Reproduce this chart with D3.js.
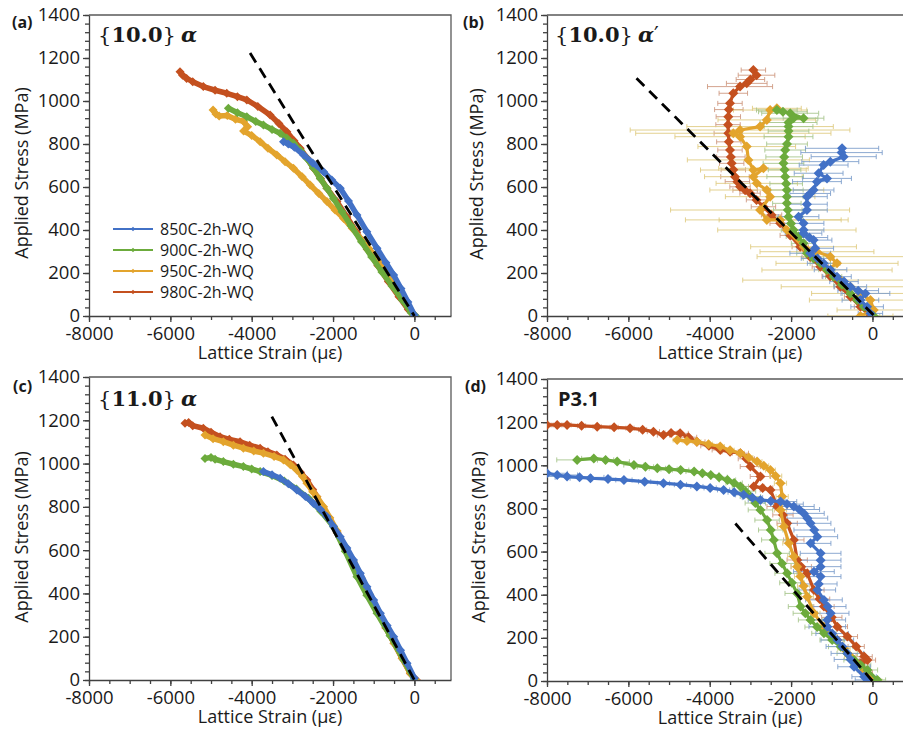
<!DOCTYPE html>
<html>
<head>
<meta charset="utf-8">
<script src="https://cdn.jsdelivr.net/npm/d3@7"></script>
<style>
body { margin: 0; background: #fff; }
svg text { font-family: "Open Sans", "Noto Sans", sans-serif; fill: #1a1a1a; }
.axis path, .axis line { stroke: #404040; stroke-width: 1.3; }
.axis text { font-size: 18.5px; fill: #1a1a1a; }
</style>
</head>
<body>
<div id="chart"></div>
<script>
const seriesNames = ["850C-2h-WQ", "900C-2h-WQ", "950C-2h-WQ", "980C-2h-WQ"];
const seriesColors = ["#4271c6", "#6cab3c", "#e3a42d", "#c4501f"];
const errColors = ["#7fa0cc", "#a9c78e", "#e0cc84", "#cf9a82"];
const yTickValues = [0, 200, 400, 600, 800, 1000, 1200, 1400];
const xTickValues = [-8000, -6000, -4000, -2000, 0];

// (a) {10.0} alpha  -- [strain (µε), stress (MPa)]
const a850 = [[-3218,811],[-3100,800],[-2950,785],[-2726,749],[-2500,712],[-2233,671],[-2030,632],[-1823,594],[-1620,535],[-1412,470],[-1170,392],[-919,315],[-700,248],[-509,191],[-330,128],[-160,65],[0,5]];
const a900 = [[-4573,966],[-4350,945],[-4120,927],[-3900,905],[-3711,888],[-3500,868],[-3300,850],[-3140,828],[-2973,803],[-2800,770],[-2643,733],[-2480,688],[-2315,640],[-2150,594],[-1988,547],[-1780,485],[-1560,420],[-1300,345],[-1050,275],[-800,205],[-550,140],[-300,75],[-80,15],[30,0]];
const a950 = [[-4950,958],[-4880,940],[-4800,930],[-4600,932],[-4400,915],[-4200,905],[-4100,880],[-4200,860],[-4000,840],[-3793,811],[-3600,780],[-3382,749],[-3180,718],[-2973,687],[-2760,648],[-2562,609],[-2350,570],[-2150,532],[-1950,493],[-1740,454],[-1530,408],[-1330,361],[-1120,314],[-919,268],[-710,214],[-509,160],[-250,80],[0,5]];
const a980 = [[-5763,1136],[-5700,1120],[-5600,1105],[-5450,1090],[-5190,1067],[-4900,1050],[-4613,1036],[-4350,1020],[-4120,1005],[-3850,975],[-3547,935],[-3330,895],[-3136,857],[-2960,815],[-2808,780],[-2640,735],[-2480,687],[-2310,640],[-2150,594],[-1904,532],[-1660,460],[-1420,390],[-1160,310],[-900,235],[-640,160],[-380,90],[-150,30],[-20,5]];
const aDash = [[-4040,1223],[0,0]];

// (b) {10.0} alpha'  -- [strain, stress, error half-width]
const b850 = [[-747,780,900],[-760,760,1000],[-707,741,800],[-1036,718,700],[-1200,702,600],[-1323,664,600],[-1117,640,600],[-1364,625,600],[-1447,586,500],[-1530,570,500],[-1611,555,500],[-1611,520,500],[-1611,493,500],[-1817,462,500],[-1694,431,500],[-1694,400,500],[-1694,385,450],[-1550,365,450],[-1447,353,450],[-1406,315,450],[-1529,292,500],[-1350,268,400],[-1200,245,400],[-1030,215,400],[-871,183,350],[-700,160,350],[-543,136,400],[-350,118,500],[-173,105,600],[-296,74,450],[-131,43,400],[-50,12,300]];
const b900 = [[-2350,958,500],[-2200,950,600],[-2022,943,700],[-1694,920,500],[-1941,920,600],[-2063,900,700],[-2063,881,600],[-2063,860,500],[-2063,834,600],[-2100,800,500],[-2145,772,500],[-2170,740,450],[-2187,710,500],[-2160,680,400],[-2145,648,450],[-2120,615,400],[-2104,586,400],[-2104,555,400],[-2104,524,350],[-2080,493,350],[-2063,462,350],[-2000,430,300],[-1941,400,300],[-1820,370,300],[-1694,338,300],[-1611,292,250],[-1450,268,250],[-1282,245,250],[-1120,215,200],[-954,183,200],[-750,145,200],[-543,105,200],[-380,75,150],[-214,43,150],[30,0,150]];
const b950 = [[-2350,966,600],[-2515,958,900],[-2597,912,1200],[-2762,881,1800],[-3255,865,2700],[-3420,850,2400],[-3255,834,1600],[-3090,788,1200],[-3050,726,1500],[-2927,679,1300],[-2680,687,1100],[-2927,648,1200],[-2844,617,1000],[-2597,586,1400],[-2515,555,1100],[-2762,493,2200],[-2597,447,2000],[-2269,447,1500],[-2104,400,1700],[-1694,322,1300],[-1364,299,1400],[-1036,276,1800],[-871,245,1500],[-1117,214,1600],[-789,167,2400],[-543,136,1700],[-296,105,1200],[-50,74,1500],[30,28,900],[-296,0,800]];
const b980 = [[-2927,1144,300],[-2850,1120,450],[-3000,1100,350],[-3090,1082,500],[-3255,1067,800],[-3420,1036,350],[-3502,989,300],[-3530,960,350],[-3543,927,300],[-3550,890,300],[-3543,850,350],[-3530,810,300],[-3502,772,300],[-3480,740,350],[-3460,710,300],[-3420,680,300],[-3379,648,350],[-3320,625,300],[-3255,601,250],[-3130,585,300],[-3009,571,250],[-2850,540,250],[-2680,508,300],[-2480,470,250],[-2269,431,250],[-2020,375,250],[-1776,322,200],[-1530,275,200],[-1282,229,200],[-1040,185,200],[-789,136,150],[-540,90,150],[-296,43,150],[-50,0,100]];
const bDash = [[-5800,1106],[50,0]];

// (c) {11.0} alpha
const c850 = [[-3711,963],[-3500,948],[-3300,932],[-3100,907],[-2890,878],[-2680,848],[-2480,816],[-2310,788],[-2150,755],[-1990,710],[-1823,662],[-1660,610],[-1495,555],[-1330,493],[-1166,431],[-1000,370],[-837,308],[-670,252],[-509,200],[-340,138],[-180,77],[0,9]];
const c900 = [[-5148,1024],[-5000,1028],[-4900,1020],[-4697,1009],[-4450,997],[-4204,986],[-4000,975],[-3793,963],[-3500,945],[-3200,920],[-2900,882],[-2600,840],[-2300,780],[-1988,708],[-1700,595],[-1412,477],[-1170,392],[-919,308],[-600,205],[-263,92],[0,0]];
const c950 = [[-5148,1132],[-4950,1115],[-4697,1101],[-4450,1085],[-4204,1071],[-3950,1058],[-3711,1048],[-3450,1033],[-3218,1017],[-3050,995],[-2890,970],[-2750,940],[-2643,909],[-2500,870],[-2397,847],[-2233,801],[-2080,750],[-1900,688],[-1700,615],[-1500,545],[-1300,470],[-1100,395],[-900,318],[-700,243],[-500,170],[-300,100],[-100,32],[30,0]];
const c980 = [[-5640,1186],[-5550,1190],[-5450,1175],[-5190,1163],[-5000,1145],[-4778,1124],[-4550,1112],[-4286,1101],[-4050,1085],[-3793,1071],[-3600,1055],[-3382,1040],[-3180,1020],[-2973,993],[-2800,960],[-2643,924],[-2500,880],[-2397,847],[-2250,795],[-2100,745],[-1900,680],[-1700,610],[-1500,540],[-1300,465],[-1100,390],[-900,315],[-700,240],[-500,170],[-300,100],[-100,30],[50,0]];
const cDash = [[-3505,1217],[0,0]];

// (d) P3.1  -- [strain, stress, error half-width]
const d850 = [[-8000,963,500],[-7750,955,500],[-7507,948,600],[-7200,944,600],[-6932,940,500],[-6500,936,400],[-6109,932,200],[-5600,924,150],[-5137,917,150],[-4720,910,150],[-4316,902,150],[-3990,895,150],[-3659,886,150],[-3400,875,150],[-3165,863,200],[-2950,850,250],[-2754,839,300],[-2500,835,350],[-2261,832,400],[-2100,820,400],[-1933,809,500],[-1800,795,500],[-1686,777,500],[-1600,755,500],[-1521,731,500],[-1430,700,500],[-1356,669,500],[-1521,638,500],[-1274,592,500],[-1274,560,500],[-1274,530,500],[-1439,507,500],[-1274,484,500],[-1320,450,450],[-1356,422,450],[-1192,376,450],[-1100,345,450],[-1027,314,450],[-1110,283,450],[-1110,252,450],[-990,220,400],[-863,190,400],[-740,160,400],[-617,128,400],[-540,100,400],[-452,66,400],[-205,20,300],[-123,5,300]];
const d900 = [[-7260,1025,500],[-6849,1032,300],[-6560,1025,200],[-6274,1017,300],[-5863,1001,250],[-5580,993,200],[-5288,986,200],[-5000,982,200],[-4715,978,200],[-4384,971,200],[-4180,963,200],[-3974,955,200],[-3770,945,200],[-3563,932,200],[-3400,918,200],[-3247,902,200],[-3120,880,250],[-3000,855,250],[-2880,825,250],[-2754,793,300],[-2590,746,300],[-2500,700,300],[-2425,654,300],[-2343,592,300],[-2220,545,300],[-2097,499,300],[-1980,455,300],[-1850,406,300],[-1768,345,300],[-1650,314,300],[-1521,283,300],[-1360,250,300],[-1192,221,300],[-990,190,300],[-781,159,300],[-620,128,250],[-452,97,250],[-290,74,250],[-123,51,250],[123,5,200]];
const d950 = [[-4800,1117,100],[-4560,1113,100],[-4316,1109,100],[-4030,1098,100],[-3741,1087,100],[-3500,1070,100],[-3247,1056,100],[-3040,1036,100],[-2836,1017,120],[-2670,998,120],[-2508,978,120],[-2380,950,150],[-2261,917,150],[-2220,855,150],[-2261,793,150],[-2179,716,150],[-2055,639,150],[-1933,577,150],[-1850,530,150],[-1768,484,150],[-1690,440,150],[-1603,391,150],[-1439,314,150],[-1192,252,150],[-863,190,150],[-700,150,150],[-535,113,150],[-370,80,150],[-205,51,150],[81,0,150]];
const d980 = [[-8000,1187,100],[-7750,1187,100],[-7507,1187,100],[-7150,1183,100],[-6767,1179,100],[-6350,1176,100],[-5960,1172,100],[-5650,1165,100],[-5384,1156,150],[-5137,1140,150],[-4950,1150,150],[-4727,1148,200],[-4520,1130,200],[-4316,1109,200],[-4020,1090,200],[-3741,1071,200],[-3500,1063,200],[-3247,1056,200],[-3100,1030,200],[-3000,994,250],[-2754,948,250],[-2918,902,250],[-2700,895,250],[-2508,886,250],[-2343,809,250],[-2200,770,250],[-2097,731,250],[-1933,654,250],[-1850,561,250],[-1750,530,250],[-1603,499,250],[-1439,422,250],[-1300,380,250],[-1192,345,250],[-1000,295,250],[-863,252,250],[-617,206,250],[-400,160,200],[-205,113,200],[-123,97,200],[-288,82,200],[-150,40,150],[-40,5,150]];
const dDash = [[-3370,730],[0,0]];

const panels = [
    { key: "a", label: "(a)", title: ["10.0", false], x0: 89, x1: 451, xMax: 900, yTop: 15, yBot: 316,
      data: [a850, a900, a950, a980], dash: aDash, errors: false, legend: true,
      labelPos: [12, 28], titlePos: [98, 42], yTitle: [28, 173], xTitle: [270, 359] },
    { key: "b", label: "(b)", title: ["10.0", true], x0: 547, x1: 905, xMax: 800, yTop: 15, yBot: 316,
      data: [b850, b900, b950, b980], dash: bDash, errors: true, legend: false,
      labelPos: [463, 28], titlePos: [555, 42], yTitle: [483, 174], xTitle: [730, 359] },
    { key: "c", label: "(c)", title: ["11.0", false], x0: 89, x1: 451, xMax: 900, yTop: 377, yBot: 680,
      data: [c850, c900, c950, c980], dash: cDash, errors: false, legend: false,
      labelPos: [13, 392], titlePos: [98, 406], yTitle: [28, 537], xTitle: [270, 723] },
    { key: "d", label: "(d)", title: null, x0: 547, x1: 905, xMax: 800, yTop: 379, yBot: 681,
      data: [d850, d900, d950, d980], dash: dDash, errors: true, legend: false,
      labelPos: [465, 392], titlePos: [558, 406], yTitle: [485, 537], xTitle: [730, 724] }
];

const svg = d3.select("#chart").append("svg")
    .attr("width", 903)
    .attr("height", 729);

const diamond = r => `M0,${-r}L${r},0L0,${r}L${-r},0Z`;
const plainNum = d => String(d);
const drawOrder = [3, 2, 1, 0];

function renderPanel(p) {
    const x = d3.scaleLinear().domain([-8000, p.xMax]).range([p.x0, p.x1]);
    const y = d3.scaleLinear().domain([0, 1400]).range([p.yBot, p.yTop]);
    const g = svg.append("g").attr("class", "panel-" + p.key);

    g.append("clipPath").attr("id", "clip-" + p.key)
        .append("rect")
        .attr("x", p.x0).attr("y", p.yTop - 8)
        .attr("width", p.x1 - p.x0).attr("height", p.yBot - p.yTop + 8);

    // frame (top and right)
    g.append("path")
        .attr("d", `M${p.x0},${p.yTop}H${p.x1}V${p.yBot}`)
        .attr("fill", "none").attr("stroke", "#595959").attr("stroke-width", 1.3);

    // minor ticks
    g.append("g").attr("class", "axis")
        .attr("transform", `translate(${p.x0},0)`)
        .call(d3.axisLeft(y).tickValues(d3.range(0, 1401, 40)).tickSize(4).tickFormat(""))
        .call(s => s.select(".domain").remove());
    g.append("g").attr("class", "axis")
        .attr("transform", `translate(0,${p.yBot})`)
        .call(d3.axisBottom(x).tickValues(d3.range(-8000, p.xMax + 1, 500)).tickSize(4).tickFormat(""))
        .call(s => s.select(".domain").remove());

    // major axes
    g.append("g").attr("class", "axis")
        .attr("transform", `translate(${p.x0},0)`)
        .call(d3.axisLeft(y).tickValues(yTickValues).tickFormat(plainNum)
            .tickSizeInner(6).tickSizeOuter(0).tickPadding(3));
    g.append("g").attr("class", "axis")
        .attr("transform", `translate(0,${p.yBot})`)
        .call(d3.axisBottom(x).tickValues(xTickValues).tickFormat(plainNum)
            .tickSizeInner(6).tickSizeOuter(0).tickPadding(5));

    const plot = g.append("g").attr("clip-path", `url(#clip-${p.key})`);

    // error bars
    if (p.errors) {
        drawOrder.forEach(i => {
            const eb = plot.append("g")
                .attr("stroke", errColors[i]).attr("stroke-width", 1).attr("stroke-opacity", 0.9);
            p.data[i].forEach(d => {
                const xa = x(d[0] - d[2]), xb = x(d[0] + d[2]), yy = y(d[1]);
                eb.append("path")
                    .attr("d", `M${xa},${yy}H${xb}M${xa},${yy - 2.5}V${yy + 2.5}M${xb},${yy - 2.5}V${yy + 2.5}`);
            });
        });
    }

    const line = d3.line().x(d => x(d[0])).y(d => y(d[1]));
    drawOrder.forEach(i => {
        plot.append("path")
            .datum(p.data[i])
            .attr("d", line)
            .attr("fill", "none")
            .attr("stroke", seriesColors[i])
            .attr("stroke-width", p.errors ? 3.2 : 5.5)
            .attr("stroke-linejoin", "round");
        plot.append("g").selectAll("path")
            .data(p.data[i])
            .enter().append("path")
            .attr("d", diamond(p.errors ? 5 : 4.5))
            .attr("transform", d => `translate(${x(d[0])},${y(d[1])})`)
            .attr("fill", seriesColors[i]);
    });

    // dashed linear-elastic line
    g.append("path")
        .datum(p.dash)
        .attr("d", line)
        .attr("fill", "none")
        .attr("stroke", "#000")
        .attr("stroke-width", 2.8)
        .attr("stroke-dasharray", "11,7");

    // labels
    g.append("text")
        .attr("x", p.labelPos[0]).attr("y", p.labelPos[1])
        .style("font-size", "16px").style("font-weight", "bold")
        .text(p.label);

    if (p.title) {
        const t = g.append("text")
            .attr("x", p.titlePos[0]).attr("y", p.titlePos[1])
            .style("font-family", "'DejaVu Serif', serif")
            .style("font-size", "21px");
        t.append("tspan").text("{");
        t.append("tspan").style("font-weight", "bold").text(p.title[0]);
        t.append("tspan").text("}");
        t.append("tspan").attr("dx", 5).style("font-weight", "bold").style("font-style", "italic").text("α");
        if (p.title[1]) t.append("tspan").style("font-family", "'DejaVu Sans', sans-serif").text("′");
    } else {
        g.append("text")
            .attr("x", p.titlePos[0]).attr("y", p.titlePos[1])
            .style("font-size", "20px").style("font-weight", "bold")
            .text("P3.1");
    }

    g.append("text")
        .attr("transform", `translate(${p.yTitle[0]},${p.yTitle[1]}) rotate(-90)`)
        .style("text-anchor", "middle").style("font-size", "18px")
        .text("Applied Stress (MPa)");

    g.append("text")
        .attr("x", p.xTitle[0]).attr("y", p.xTitle[1])
        .style("text-anchor", "middle").style("font-size", "18px")
        .text("Lattice Strain (με)");

    if (p.legend) {
        const lg = g.append("g");
        seriesNames.forEach((name, i) => {
            const yy = 229 + i * 21;
            lg.append("line")
                .attr("x1", 113).attr("x2", 153).attr("y1", yy).attr("y2", yy)
                .attr("stroke", seriesColors[i]).attr("stroke-width", 2.2);
            lg.append("path")
                .attr("d", diamond(2.2))
                .attr("transform", `translate(133,${yy})`)
                .attr("fill", seriesColors[i]);
            lg.append("text")
                .attr("x", 160).attr("y", yy + 6)
                .style("font-size", "16px")
                .text(name);
        });
    }
}

panels.forEach(renderPanel);
</script>
</body>
</html>
